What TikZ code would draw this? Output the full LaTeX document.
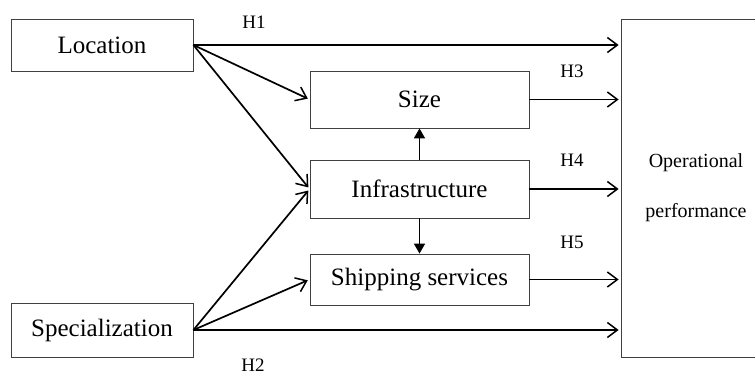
\documentclass[tikz,border=0pt]{standalone}
\usepackage{fontspec}
\setmainfont{Liberation Serif}
\usepackage{tikz}
\usetikzlibrary{arrows.meta,positioning,calc}

\begin{document}
\begin{tikzpicture}[x=1pt, y=-1pt,
          box/.style={draw=black!75, line width=0.8pt, inner sep=0pt,
            font=\fontsize{25}{30}\selectfont},
          hlabel/.style={font=\fontsize{19}{22}\selectfont, inner sep=0pt},
          link/.style={line width=1.7pt, -{Straight Barb[length=10pt,width=15pt,line width=1.5pt]}},
          vlink/.style={line width=1.7pt, -{Triangle[length=10pt,width=11pt]}}
        ]
          \useasboundingbox (0,0) rectangle (755,374);
          % left-hand factors
          \node[box, minimum width=182pt, minimum height=52pt] (loc) at (102,45) {Location};
          \node[box, minimum width=182pt, minimum height=54pt] (spec) at (102,330) {Specialization};
          % mediators
          \node[box, minimum width=219pt, minimum height=57pt] (size) at (419.5,99.5) {Size};
          \node[box, minimum width=219pt, minimum height=58pt] (infra) at (419.5,189) {Infrastructure};
          \node[box, minimum width=219pt, minimum height=51pt] (ship) at (419.5,279.5) {Shipping services};
          % outcome
          \node[box, minimum width=150pt, minimum height=338pt, align=center,
            font=\fontsize{20}{50}\selectfont] (perf) at (696,188) {Operational\\performance};
          % hypothesis labels
          \node[hlabel] (hone) at (254,22) {H1};
          \node[hlabel] (htwo) at (253,365) {H2};
          \node[hlabel] (hthree) at (572,71) {H3};
          \node[hlabel] (hfour) at (572,160) {H4};
          \node[hlabel] (hfive) at (572,242) {H5};
          % paths
          \draw[link, shorten >=2pt] (loc.east) -- (loc.east -| perf.west);
          \draw[link, shorten >=2pt] (loc.east) -- (size.west);
          \draw[link, shorten >=2pt] (loc.east) -- (infra.west);
          \draw[link, shorten >=2pt] (spec.east) -- (infra.west);
          \draw[link, shorten >=2pt] (spec.east) -- (ship.west);
          \draw[link, shorten >=2pt] (spec.east) -- (spec.east -| perf.west);
          \draw[link, shorten >=2pt] (size.east) -- (size.east -| perf.west);
          \draw[link, shorten >=2pt] (infra.east) -- (infra.east -| perf.west);
          \draw[link, shorten >=2pt] (ship.east) -- (ship.east -| perf.west);
          \draw[vlink] (infra.north) -- (size.south);
          \draw[vlink] (infra.south) -- (ship.north);
        \end{tikzpicture}
\end{document}
